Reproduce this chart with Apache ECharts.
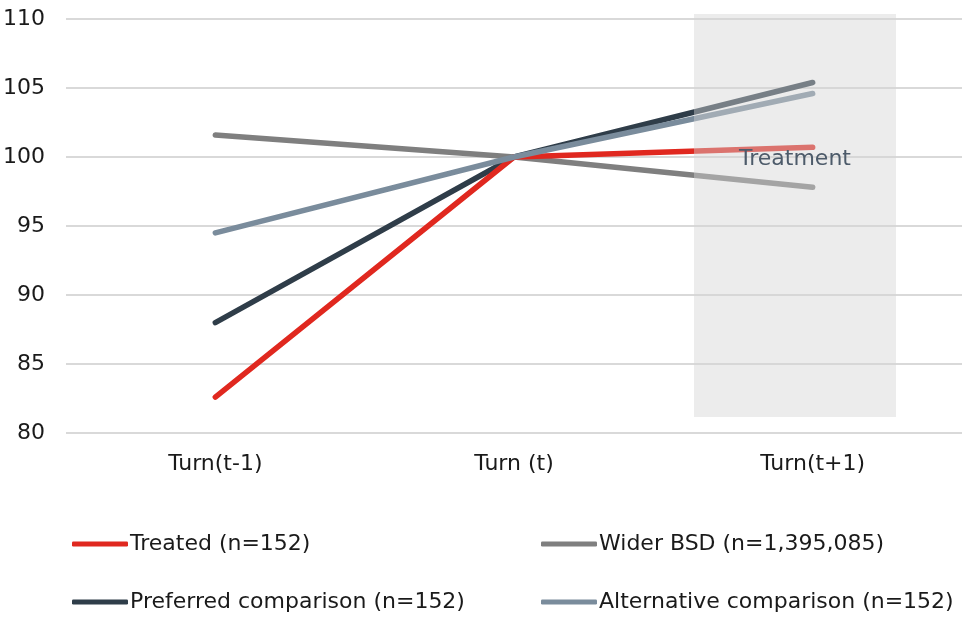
<!DOCTYPE html>
<html>
<head>
<meta charset="utf-8">
<script src="https://cdn.jsdelivr.net/npm/echarts@6/dist/echarts.min.js"></script>
<style>html,body{margin:0;padding:0;background:#fff;}#c{width:964px;height:617px;}</style>
</head>
<body>
<div id="c"></div>
<script>
const categories = ['Turn(t-1)', 'Turn (t)', 'Turn(t+1)'];
const treated = [82.6, 100, 100.7];
const widerBSD = [101.6, 100, 97.8];
const preferred = [88.0, 100, 105.4];
const alternative = [94.5, 100, 104.6];
const seriesNames = ['Treated (n=152)', 'Wider BSD (n=1,395,085)', 'Preferred comparison (n=152)', 'Alternative comparison (n=152)'];
const colors = ['#e0281f', '#7f7f7f', '#2f3d49', '#7a8c9c'];
const yTicks = {min: 80, max: 110, interval: 5};
const annotationText = 'Treatment';

const FONT = 'DejaVu Sans';
const chart = echarts.init(document.getElementById('c'), null, {renderer: 'canvas'});
const mk = (name, data, color, z) => ({
  name, type: 'line', data, symbol: 'none', z,
  lineStyle: {color, width: 5.5, cap: 'round', join: 'round'},
  itemStyle: {color},
  emphasis: {disabled: true}
});
const legendAt = (name, left, top) => ({
  orient: 'horizontal', left, top, data: [name],
  itemWidth: 56, itemHeight: 5, icon: 'roundRect', padding: 0,
  textStyle: {fontFamily: FONT, fontSize: 22, color: '#1a1a1a', padding: [0, 0, 0, -3]},
  selectedMode: false
});
chart.setOption({
  animation: false,
  color: colors,
  grid: {left: 63, right: 2, top: 19, bottom: 184},
  xAxis: {
    type: 'category', data: categories, boundaryGap: true,
    axisLine: {show: false}, axisTick: {show: false},
    axisLabel: {fontFamily: FONT, fontSize: 22, color: '#1a1a1a', margin: 20}
  },
  yAxis: {
    type: 'value', min: yTicks.min, max: yTicks.max, interval: yTicks.interval,
    axisLine: {show: false}, axisTick: {show: false},
    axisLabel: {fontFamily: FONT, fontSize: 22, color: '#1a1a1a', margin: 21},
    splitLine: {lineStyle: {color: '#d9d9d9', width: 2}}
  },
  legend: [
    legendAt(seriesNames[0], 72, 533),
    legendAt(seriesNames[2], 72, 591),
    legendAt(seriesNames[1], 541, 533),
    legendAt(seriesNames[3], 541, 591)
  ],
  graphic: [
    {type: 'rect', z: 100, shape: {x: 694, y: 14, width: 202, height: 403},
     style: {fill: 'rgba(211,211,211,0.44)'}},
    {type: 'text', z: 101, x: 795, y: 159,
     style: {text: annotationText, font: '22px "DejaVu Sans"', fill: '#4d5b6a', textAlign: 'center', textVerticalAlign: 'middle'}}
  ],
  series: [
    mk(seriesNames[0], treated, colors[0], 4),
    mk(seriesNames[1], widerBSD, colors[1], 3),
    mk(seriesNames[2], preferred, colors[2], 2),
    mk(seriesNames[3], alternative, colors[3], 5)
  ]
});
</script>
</body>
</html>
